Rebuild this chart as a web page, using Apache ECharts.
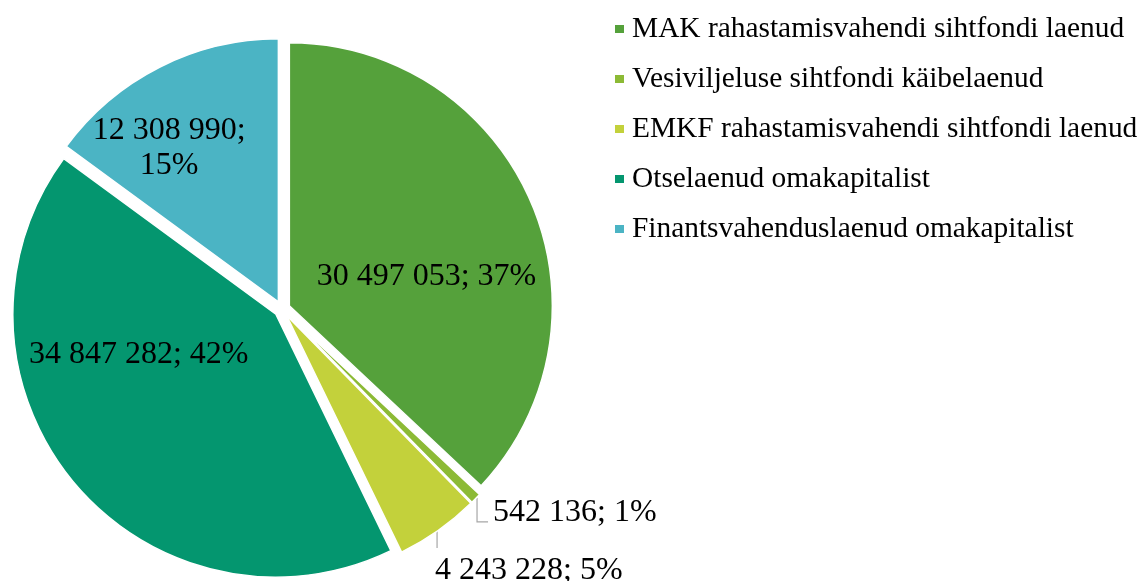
<!DOCTYPE html>
<html><head><meta charset="utf-8">
<script src="https://cdn.jsdelivr.net/npm/echarts@6/dist/echarts.min.js"></script>
<style>html,body{margin:0;padding:0;background:#fff}#c{width:1145px;height:581px}</style>
</head><body><div id="c"></div>
<script>
const categories = ['MAK rahastamisvahendi sihtfondi laenud', 'Vesiviljeluse sihtfondi käibelaenud', 'EMKF rahastamisvahendi sihtfondi laenud', 'Otselaenud omakapitalist', 'Finantsvahenduslaenud omakapitalist'];
const values = [30497053, 542136, 4243228, 34847282, 12308990];
const colors = ['#55a13b', '#8cba35', '#c3d13b', '#04966f', '#4bb4c4'];
const labelInside = [true, false, false, true, true];
const labelBreak = [false, false, false, false, true];

function fmt(v) { return String(v).replace(/\B(?=(\d{3})+(?!\d))/g, ' '); }

// label nudges (style only), relative to the library's own label / leader anchor
const insideShift = { 0: [21, 21], 3: [-40, -41], 4: [-52, -41] };

const pieBase = {
  type: 'pie',
  center: [282, 309],
  radius: 263,
  startAngle: 90,
  clockwise: true,
  avoidLabelOverlap: false,
  emphasis: { disabled: true }
};

const chart = echarts.init(document.getElementById('c'), null, { renderer: 'canvas' });
chart.setOption({
  animation: false,
  backgroundColor: '#fff',
  legend: {
    orient: 'vertical', left: 608, top: 9,
    itemWidth: 11, itemHeight: 10, itemGap: 20, icon: 'rect',
    selectedMode: false,
    data: categories,
    textStyle: { fontFamily: 'Liberation Serif', fontSize: 29.4, color: '#000', lineHeight: 30, padding: [0, 0, 0, 2] }
  },
  series: [
    Object.assign({}, pieBase, {
      name: 'slices',
      selectedMode: 'multiple',
      selectedOffset: 8,
      itemStyle: { borderColor: '#fff', borderWidth: 1.5 },
      label: { show: false },
      labelLine: { show: false },
      data: categories.map((name, i) => ({
        name: name, value: values[i], selected: true, itemStyle: { color: colors[i] }
      }))
    }),
    Object.assign({}, pieBase, {
      name: 'labels',
      silent: true,
      selectedMode: false,
      itemStyle: { color: 'rgba(0,0,0,0)' },
      label: {
        fontFamily: 'Liberation Serif', fontSize: 32, color: '#000', lineHeight: 35,
        formatter: p => fmt(p.value) + ';' + (labelBreak[p.dataIndex] ? '\n' : ' ') + Math.round(p.percent) + '%'
      },
      labelLine: { lineStyle: { color: '#a6a6a6', width: 1.2 } },
      labelLayout: function (p) {
        const i = p.dataIndex;
        if (labelInside[i]) {
          const s = insideShift[i];
          return { dx: s[0], dy: s[1] };
        }
        const q = p.labelLinePoints[0];
        if (i === 1) {
          return { x: q[0] + 23, y: q[1] + 20, align: 'left', verticalAlign: 'middle',
            labelLinePoints: [[q[0] + 7, q[1] + 5], [q[0] + 7, q[1] + 29], [q[0] + 18, q[1] + 29]] };
        }
        return { x: q[0] + 1.5, y: q[1] + 46.5, align: 'left', verticalAlign: 'middle',
          labelLinePoints: [[q[0] + 3.5, q[1] + 6], [q[0] + 3.5, q[1] + 15], [q[0] + 3.5, q[1] + 24]] };
      },
      data: categories.map((name, i) => ({
        name: name, value: values[i],
        label: { position: labelInside[i] ? 'inside' : 'outside' },
        labelLine: { show: !labelInside[i] }
      }))
    })
  ]
});
</script>
</body></html>
